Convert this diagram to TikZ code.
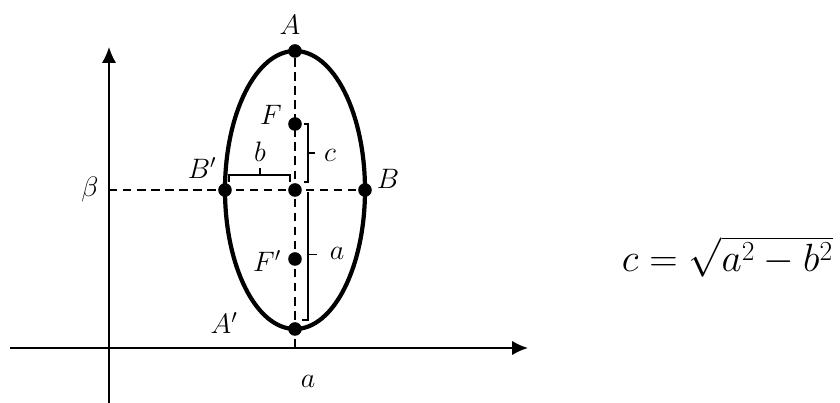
\RequirePackage{fix-cm}
\documentclass[tikz,border=0pt]{standalone}
\usepackage{amsmath,amssymb}
\usetikzlibrary{calc,arrows.meta}
\tikzset{
  vertex/.style={
    inner sep = 0cm,
    minimum size = 0.34cm,
    shape = circle,
    fill
  },
  axis/.style={
    line width = 1.2pt,
    -{Latex[length=0.4cm,width=0.36cm]}
  },
  guide/.style={
    line width = 1.2pt,
    dash pattern = on 6pt off 4pt
  },
  brace/.style={
    thick
  },
  every picture/.style = {
    font=\fontsize{20}{24}\selectfont
  }
}

\begin{document}
\begin{tikzpicture}
            \useasboundingbox (-2.725,-1.375) rectangle (18.275,8.7);
            \coordinate (xl) at (-2.475,0);
            \coordinate (xr) at (10.475,0);
            \coordinate (yb) at (0,-1.375);
            \coordinate (yt) at (0,7.525);
            \draw[axis] (xl) -- (xr);
            \draw[axis] (yb) -- (yt);
            % points of the ellipse
            \node[vertex] (O) at (4.65,3.95) {};
            \node[vertex,label={[xshift=-0.125cm,yshift=0.65cm]center:$A$}] (A) at (4.65,7.425) {};
            \node[vertex,label={[xshift=-1.775cm,yshift=0.15cm]center:$A'$}] (Ap) at (4.65,0.475) {};
            \node[vertex,label={[xshift=-0.6cm,yshift=0.225cm]center:$F$}] (F) at (4.65,5.6) {};
            \node[vertex,label={[xshift=-0.7cm,yshift=-0.05cm]center:$F'$}] (Fp) at (4.65,2.225) {};
            \node[vertex,label={[xshift=0.575cm,yshift=0.275cm]center:$B$}] (B) at (6.4,3.95) {};
            \node[vertex,label={[xshift=-0.575cm,yshift=0.55cm]center:$B'$}] (Bp) at (2.9,3.95) {};
            \coordinate[label={[xshift=-0.475cm,yshift=0.025cm]center:$\beta$}] (pb) at (0,3.95);
            \coordinate[label={[xshift=0.325cm,yshift=-0.725cm]center:$a$}] (pa) at (4.65,-0.1);
            \draw[guide] (A) -- (pa);
            \draw[guide] (pb) -- (B);
            \draw[line width=3pt] (O) ellipse [x radius=1.75, y radius=3.475];
            % brackets
            \draw[brace] ($(F)+(0.225,0)$) -- ++(0.1,0) |- ($(O)+(0.225,0.2)$);
            \draw[brace] ($(F)!0.5!(O)+(0.325,0.1)$) -- ++(0.175,0);
            \node (lc) at ($(F)!0.5!(O)+(0.875,0.05)$) {$c$};
            \draw[brace] ($(Bp)+(0.1,0.2)$) |- ($(O)+(-0.125,0.375)$) -- ++(0,-0.175);
            \draw[brace] ($(Bp)!0.5!(O)+(0,0.375)$) -- ++(0,0.175);
            \node (lb) at ($(Bp)!0.5!(O)+(0,0.95)$) {$b$};
            \draw[brace] ($(O)+(0.325,-0.05)$) |- ($(Ap)+(0.175,0.225)$);
            \draw[brace] ($(O)!0.5!(Ap)+(0.325,0.125)$) -- ++(0.225,0);
            \node (la) at ($(O)!0.5!(Ap)+(1.05,0.15)$) {$a$};
            \node[anchor=base west,font=\fontsize{28}{32}\selectfont] (eq) at (12.7,1.9) {$c=\sqrt{a^2-b^2}$};
        \end{tikzpicture}
\end{document}
